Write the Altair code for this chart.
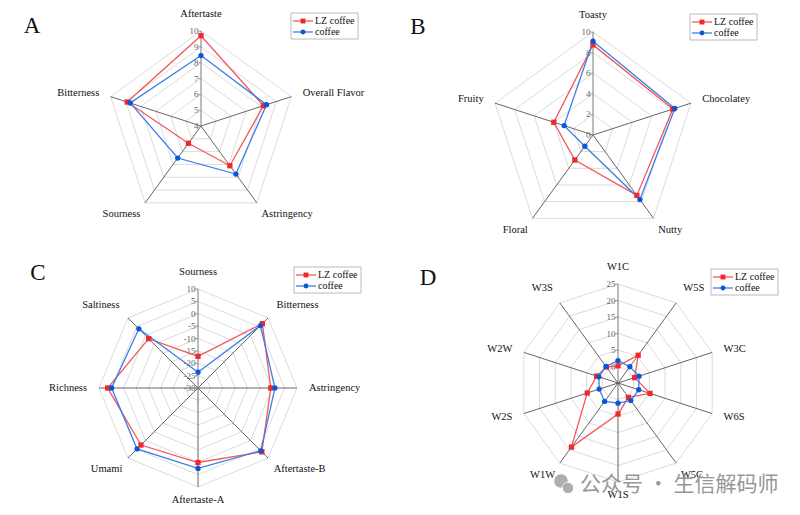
import math
import altair as alt
import pandas as pd

SERIES = ["LZ coffee", "coffee"]

# ---------------- data ----------------
A_axes = ["Aftertaste", "Overall Flavor", "Astringency", "Sourness", "Bitterness"]
A_lz = [9.7, 8.15, 7.1, 5.35, 8.9]
A_cf = [8.45, 8.35, 7.75, 6.5, 8.7]
A_ticks = [4, 5, 6, 7, 8, 9, 10]

B_axes = ["Toasty", "Chocolatey", "Nutty", "Floral", "Fruity"]
B_lz = [8.75, 8.15, 7.25, 3.0, 4.0]
B_cf = [9.1, 8.35, 7.75, 1.35, 2.95]
B_ticks = [0, 2, 4, 6, 8, 10]

C_axes = ["Sourness", "Bitterness", "Astringency", "Aftertaste-B",
          "Aftertaste-A", "Umami", "Richness", "Saltiness"]
C_lz = [-17.2, 6.8, -0.6, 6.5, 0.1, 2.6, 6.5, -1.8]
C_cf = [-23.6, 5.7, 1.1, 5.9, 2.5, 4.8, 4.9, 3.8]
C_ticks = [-30, -25, -20, -15, -10, -5, 0, 5, 10]

D_axes = ["W1C", "W5S", "W3C", "W6S", "W5C", "W1S", "W1W", "W2S", "W2W", "W3S"]
D_lz = [0.2, 5.4, 0.3, 5.2, 0.4, 4.4, 19.0, 4.8, 1.8, 1.0]
D_cf = [1.8, 1.1, 1.7, 1.6, 1.6, 1.1, 1.9, 1.0, 1.1, 1.2]
D_ticks = [0, 5, 10, 15, 20, 25]

WATERMARK = "公众号 · 生信解码师"

# ---------------- layout (reference pixel coords) ----------------
OFF = 8
W, H = 784, 499
PANELS = [
    dict(key="A", axes=A_axes, vals=[A_lz, A_cf], ticks=A_ticks, lo=4, hi=10,
         cx=201, cy=126, R=95, legend=(291, 13), letter=(32, 26)),
    dict(key="B", axes=B_axes, vals=[B_lz, B_cf], ticks=B_ticks, lo=0, hi=10,
         cx=593, cy=135, R=103, legend=(690, 14), letter=(418, 27)),
    dict(key="C", axes=C_axes, vals=[C_lz, C_cf], ticks=C_ticks, lo=-30, hi=10,
         cx=198, cy=388, R=99, legend=(294, 267), letter=(38, 273)),
    dict(key="D", axes=D_axes, vals=[D_lz, D_cf], ticks=D_ticks, lo=-5, hi=25,
         cx=618, cy=383, R=99, legend=(711, 269), letter=(428, 278)),
]

grid_rows, spoke_rows, spoke0_rows, line_rows, pt_rows = [], [], [], [], []
label_rows, tick_rows, tickmark_rows = [], [], []
leg_box, leg_line, leg_pt, leg_txt, letters = [], [], [], [], []

for p in PANELS:
    n = len(p["axes"])
    cx, cy, R = p["cx"] - OFF, p["cy"] - OFF, p["R"]
    lo, hi = p["lo"], p["hi"]

    def pos(k, v):
        th = 2 * math.pi * k / n
        r = R * (v - lo) / (hi - lo)
        return cx + r * math.sin(th), cy - r * math.cos(th)

    # grid rings
    for lev in p["ticks"]:
        if lev == lo:
            continue
        for k in range(n + 1):
            x, y = pos(k % n, lev)
            grid_rows.append(dict(gid=f"{p['key']}{lev}", o=k, x=x, y=y))
    # spokes
    for k in range(n):
        x, y = pos(k, hi)
        row = dict(x=cx, y=cy, x2=x, y2=y)
        (spoke0_rows if k == 0 else spoke_rows).append(row)
    # tick labels on first axis
    for t in p["ticks"]:
        x, y = pos(0, t)
        tick_rows.append(dict(x=x - 2.5, y=y, t=str(t)))
        tickmark_rows.append(dict(x=x - 3, x2=x, y=y, y2=y))
    # series
    for s, vals in zip(SERIES, p["vals"]):
        for k in range(n + 1):
            x, y = pos(k % n, vals[k % n])
            line_rows.append(dict(gid=f"{p['key']}{s}", series=s, o=k, x=x, y=y))
            if k < n:
                pt_rows.append(dict(series=s, x=x, y=y))
    # axis labels
    for k, name in enumerate(p["axes"]):
        th = 2 * math.pi * k / n
        sx, cy_ = math.sin(th), math.cos(th)
        vx, vy = pos(k, hi)
        align = "center" if abs(sx) < 0.1 else ("left" if sx > 0 else "right")
        base = "bottom" if cy_ > 0.5 else ("top" if cy_ < -0.5 else "middle")
        d = 8 if base == "top" else 12
        lx, ly = vx + d * sx, vy - d * cy_
        label_rows.append(dict(x=lx, y=ly, t=name, align=align, base=base))
    # legend
    lx0, ly0 = p["legend"][0] - OFF, p["legend"][1] - OFF
    leg_box.append(dict(x=lx0, x2=lx0 + 67, y=ly0, y2=ly0 + 26))
    for i, s in enumerate(SERIES):
        yy = ly0 + 8 + i * 11
        leg_line.append(dict(series=s, x=lx0 + 2, x2=lx0 + 22, y=yy, y2=yy))
        leg_pt.append(dict(series=s, x=lx0 + 12, y=yy))
        leg_txt.append(dict(x=lx0 + 24, y=yy, t=s))
    letters.append(dict(x=p["letter"][0] - OFF, y=p["letter"][1] - OFF, t=p["key"]))

XS = alt.Scale(domain=[0, W], nice=False, zero=False)
YS = alt.Scale(domain=[0, H], nice=False, zero=False, reverse=True)


def X(f="x"):
    return alt.X(f"{f}:Q", scale=XS, axis=None)


def Y(f="y"):
    return alt.Y(f"{f}:Q", scale=YS, axis=None)


LINE_SCALE = alt.Scale(domain=SERIES, range=["#f4565a", "#3b7ee6"])
PT_SCALE = alt.Scale(domain=SERIES, range=["#ee2a2e", "#0a56d8"])
SHAPE_SCALE = alt.Scale(domain=SERIES, range=["square", "circle"])
SERIF = "Liberation Serif"

layers = []
layers.append(alt.Chart(pd.DataFrame(grid_rows)).mark_line(color="#d2d2d2", strokeWidth=0.8)
              .encode(x=X(), y=Y(), detail="gid:N", order="o:Q"))
layers.append(alt.Chart(pd.DataFrame(spoke_rows)).mark_rule(color="#555555", strokeWidth=0.9)
              .encode(x=X(), y=Y(), x2="x2:Q", y2="y2:Q"))
layers.append(alt.Chart(pd.DataFrame(spoke0_rows)).mark_rule(color="#8f8f8f", strokeWidth=1.2)
              .encode(x=X(), y=Y(), x2="x2:Q", y2="y2:Q"))
layers.append(alt.Chart(pd.DataFrame(tickmark_rows)).mark_rule(color="#8f8f8f", strokeWidth=0.8)
              .encode(x=X(), y=Y(), x2="x2:Q", y2="y2:Q"))
layers.append(alt.Chart(pd.DataFrame(tick_rows)).mark_text(
    align="right", baseline="middle", font=SERIF, fontSize=9, color="#666666")
    .encode(x=X(), y=Y(), text="t:N"))
layers.append(alt.Chart(pd.DataFrame(line_rows)).mark_line(strokeWidth=1.3)
              .encode(x=X(), y=Y(), detail="gid:N", order="o:Q",
                      color=alt.Color("series:N", scale=LINE_SCALE, legend=None)))
layers.append(alt.Chart(pd.DataFrame(pt_rows)).mark_point(filled=True, opacity=1, size=28)
              .encode(x=X(), y=Y(),
                      color=alt.Color("series:N", scale=PT_SCALE, legend=None),
                      shape=alt.Shape("series:N", scale=SHAPE_SCALE, legend=None)))

lab_df = pd.DataFrame(label_rows)
for (al, bs), sub in lab_df.groupby(["align", "base"]):
    layers.append(alt.Chart(sub.reset_index(drop=True)).mark_text(
        align=al, baseline=bs, font=SERIF, fontSize=10.5, color="#111111")
        .encode(x=X(), y=Y(), text="t:N"))

# legends
layers.append(alt.Chart(pd.DataFrame(leg_box)).mark_rect(fill="white", stroke="#a8a8a8", strokeWidth=0.8)
              .encode(x=X(), x2="x2:Q", y=Y(), y2="y2:Q"))
layers.append(alt.Chart(pd.DataFrame(leg_line)).mark_rule(strokeWidth=1.3)
              .encode(x=X(), x2="x2:Q", y=Y(), y2="y2:Q",
                      color=alt.Color("series:N", scale=LINE_SCALE, legend=None)))
layers.append(alt.Chart(pd.DataFrame(leg_pt)).mark_point(filled=True, opacity=1, size=24)
              .encode(x=X(), y=Y(),
                      color=alt.Color("series:N", scale=PT_SCALE, legend=None),
                      shape=alt.Shape("series:N", scale=SHAPE_SCALE, legend=None)))
layers.append(alt.Chart(pd.DataFrame(leg_txt)).mark_text(
    align="left", baseline="middle", font=SERIF, fontSize=10, color="#111111")
    .encode(x=X(), y=Y(), text="t:N"))
layers.append(alt.Chart(pd.DataFrame(letters)).mark_text(
    align="center", baseline="middle", font=SERIF, fontSize=23, color="#111111")
    .encode(x=X(), y=Y(), text="t:N"))

# watermark
wm_icon = pd.DataFrame([dict(x=561 - OFF, y=481 - OFF, s=210), dict(x=568 - OFF, y=488 - OFF, s=130)])
layers.append(alt.Chart(wm_icon).mark_circle(color="#a0a0a0", opacity=0.85, stroke="white", strokeWidth=1)
              .encode(x=X(), y=Y(), size=alt.Size("s:Q", scale=None, legend=None)))
layers.append(alt.Chart(pd.DataFrame([dict(x=580 - OFF, y=485 - OFF, t=WATERMARK)])).mark_text(
    align="left", baseline="middle", font="Noto Sans CJK SC", fontSize=21, color="#8c8c8c", opacity=0.9)
    .encode(x=X(), y=Y(), text="t:N"))

chart = (alt.layer(*layers)
         .resolve_scale(color="independent", shape="independent")
         .properties(width=W, height=H, autosize=alt.AutoSizeParams(type="none"), padding=0,
                     background="white")
         .configure_view(stroke=None))

chart.save("out.html", embed_options={"renderer": "svg", "actions": False})
